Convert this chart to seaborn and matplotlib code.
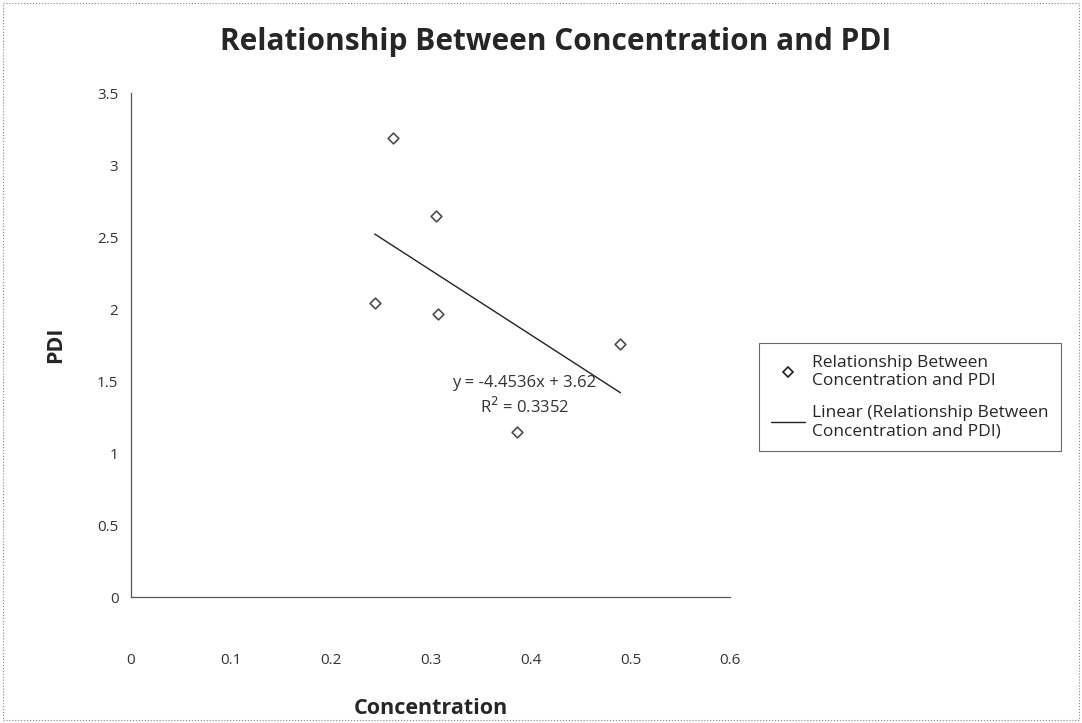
import numpy as np
import pandas as pd
import matplotlib
matplotlib.use("Agg")
import matplotlib.pyplot as plt
import seaborn as sns
from matplotlib.lines import Line2D

# values
concentration = [0.262, 0.305, 0.244, 0.307, 0.490, 0.386]
pdi = [3.19, 2.65, 2.04, 1.97, 1.76, 1.15]
x_ticks = [0, 0.1, 0.2, 0.3, 0.4, 0.5, 0.6]
y_ticks = [0, 0.5, 1, 1.5, 2, 2.5, 3, 3.5]
series_name = "Relationship Between\nConcentration and PDI"
trend_name = "Linear (Relationship Between\nConcentration and PDI)"
equation = "y = -4.4536x + 3.62"
r_squared = "R$^2$ = 0.3352"

sns.set_theme(style="white")
plt.rcParams['font.family'] = ['Open Sans', 'DejaVu Sans']

df = pd.DataFrame({"Concentration": concentration, "PDI": pdi})

fig = plt.figure(figsize=(10.82, 7.23), dpi=100)
ax = fig.add_axes([0.121, 0.174, 0.554, 0.697])

sns.regplot(data=df, x="Concentration", y="PDI", ax=ax, ci=None, truncate=True,
            marker="D",
            scatter_kws=dict(s=30, facecolors="white", edgecolors="#222222", linewidths=1.2),
            line_kws=dict(color="#222222", linewidth=1.0))

ax.set_xlim(0, 0.6)
ax.set_ylim(0, 3.5)
ax.set_xticks(x_ticks)
ax.set_yticks(y_ticks)
ax.set_xticklabels([f"{v:g}" for v in x_ticks], fontsize=11, color="#333333")
ax.set_yticklabels([f"{v:g}" for v in y_ticks], fontsize=11, color="#333333")
ax.tick_params(axis="both", direction="out", length=4, width=0.8, color="#555555")
ax.tick_params(axis="x", pad=36)
ax.tick_params(axis="y", pad=5)
for side in ["top", "right"]:
    ax.spines[side].set_visible(False)
for side in ["left", "bottom"]:
    ax.spines[side].set_color("#555555")
    ax.spines[side].set_linewidth(0.9)

ax.set_xlabel("Concentration", fontsize=15.5, fontweight="bold", labelpad=22)
ax.set_ylabel("PDI", fontsize=15.5, fontweight="bold", labelpad=22)

ax.text(0.394, 1.49, equation, ha="center", va="center", fontsize=12, color="#333333")
ax.text(0.394, 1.32, r_squared, ha="center", va="center", fontsize=12, color="#333333")

fig.suptitle("Relationship Between Concentration and PDI", fontsize=21.5, fontweight="bold",
             x=0.514, y=0.962)

handles = [
    Line2D([], [], marker="D", linestyle="none", markersize=5, markerfacecolor="white",
           markeredgecolor="#222222", markeredgewidth=1.2),
    Line2D([], [], color="#222222", linewidth=1.0),
]
leg = fig.legend(handles, [series_name, trend_name], loc="center left",
                 bbox_to_anchor=(0.693, 0.451), fontsize=12.5, frameon=True,
                 handlelength=2.0, handletextpad=0.4, borderpad=0.7, labelspacing=0.9,
                 fancybox=False)
leg.get_frame().set_edgecolor("#444444")
leg.get_frame().set_linewidth(0.8)

# thin chart-area border
fig.patches.append(plt.Rectangle((0.003, 0.004), 0.994, 0.992, transform=fig.transFigure,
                                 fill=False, edgecolor="#888888", linewidth=0.8, linestyle=":"))

fig.savefig("out.png", dpi=100)
